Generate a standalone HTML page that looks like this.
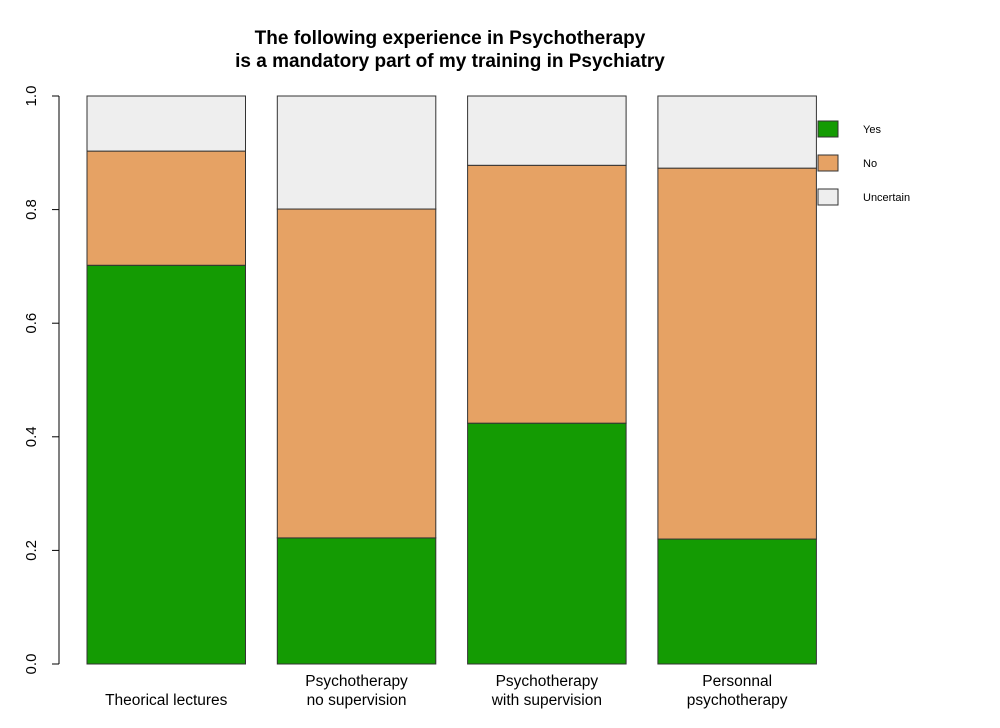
<!DOCTYPE html>
<html><head><meta charset="utf-8"><style>body{margin:0;background:#fff}svg{display:block}text{font-family:"Liberation Sans",sans-serif}</style></head>
<body>
<svg id="c" width="1000" height="728">
<text x="450" y="44" text-anchor="middle" font-size="19" font-weight="bold">The following experience in Psychotherapy</text>
<text x="450" y="67" text-anchor="middle" font-size="19" font-weight="bold">is a mandatory part of my training in Psychiatry</text>
</svg>
<script>
const categories=[["Theorical lectures"],["Psychotherapy","no supervision"],["Psychotherapy","with supervision"],["Personnal","psychotherapy"]];
const yesVals=[0.702,0.222,0.424,0.220];
const noVals=[0.201,0.579,0.454,0.653];
const uncVals=[0.097,0.199,0.122,0.127];
const seriesNames=["Yes","No","Uncertain"];
const colors=["#149b03","#e6a264","#eeeeee"];
const yTicks=[0,0.2,0.4,0.6,0.8,1.0];
const yTickLabels=["0.0","0.2","0.4","0.6","0.8","1.0"];
const svg=document.getElementById('c');const NS="http://www.w3.org/2000/svg";
function el(t,a){const e=document.createElementNS(NS,t);for(const k in a)e.setAttribute(k,a[k]);svg.appendChild(e);return e;}
const y=v=>664-v*568;
const x=i=>87+i*190.3;const bw=158.5;
let ax=el('line',{x1:59,x2:59,y1:y(0),y2:y(1),stroke:'#000'});


yTicks.forEach((t,i)=>{const l=el('line',{x1:52,x2:59,y1:y(t),y2:y(t),stroke:'#000'});


const tx=el('text',{x:36,y:y(t),'font-size':15,'text-anchor':'middle',transform:`rotate(-90 36 ${y(t)})`});tx.textContent=yTickLabels[i];

});
const series=[yesVals,noVals,uncVals];
categories.forEach((c,i)=>{let base=0;series.forEach((s,j)=>{const v=s[i];
const r=el('rect',{x:x(i),y:y(base+v),width:bw,height:y(base)-y(base+v),fill:colors[j],stroke:'#333','stroke-width':1});


base+=v;});
c.forEach((line,k)=>{const tx=el('text',{x:x(i)+bw/2,y:(c.length==1?705:686+k*19),'font-size':15.5,'text-anchor':'middle'});tx.textContent=line;

});});
seriesNames.forEach((n,j)=>{const r=el('rect',{x:818,y:121+j*34,width:20,height:16,fill:colors[j],stroke:'#333'});


const t=el('text',{x:863,y:133+j*34,'font-size':11});t.textContent=n;

});
</script>
</body></html>
